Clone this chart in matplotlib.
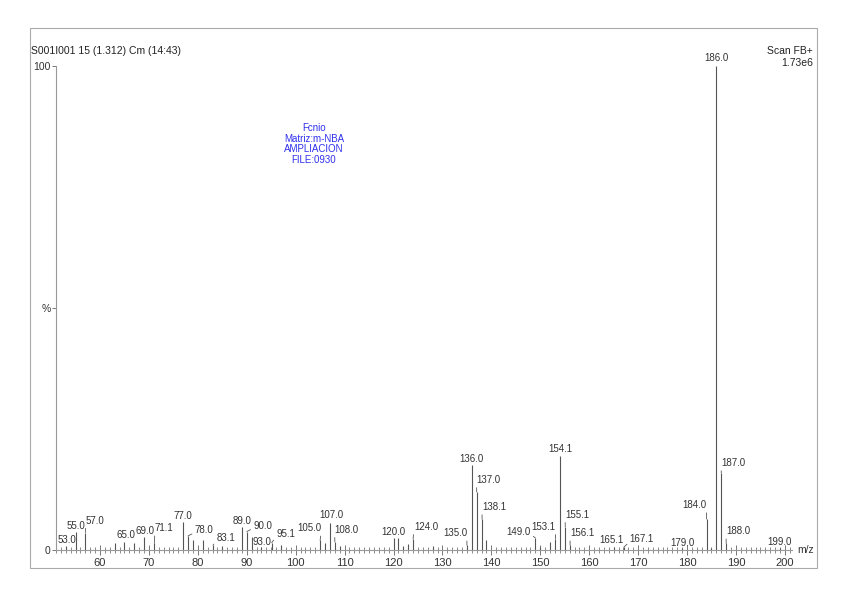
import matplotlib
matplotlib.use("Agg")
import matplotlib.pyplot as plt
from matplotlib.patches import Rectangle
from matplotlib.ticker import MultipleLocator

plt.rcParams['font.family'] = ['Liberation Sans', 'DejaVu Sans']

# spectrum peaks (m/z, relative intensity %)
mz = [53.0, 55.0, 57.0, 63.0, 65.0, 67.0, 69.0, 71.1, 77.0, 78.0, 79.0, 81.0,
      83.1, 85.0, 89.0, 90.0, 91.0, 93.0, 95.1, 97.0, 105.0, 106.0, 107.0,
      108.0, 109.0, 120.0, 121.0, 122.0, 123.0, 124.0, 128.0, 135.0, 136.0,
      137.0, 138.1, 139.0, 149.0, 150.0, 152.0, 153.1, 154.1, 155.1, 156.1,
      165.1, 167.1, 179.0, 184.0, 185.0, 186.0, 187.0, 188.0, 199.0]
intensity = [0.8, 3.8, 3.6, 1.4, 1.7, 1.5, 2.7, 1.4, 5.8, 2.9, 2.1, 2.1,
             1.0, 0.8, 4.8, 3.8, 2.7, 0.6, 1.5, 1.0, 2.0, 1.4, 5.5,
             1.7, 0.8, 2.5, 2.5, 0.8, 1.2, 2.3, 0.8, 1.0, 17.6,
             12.0, 6.4, 2.1, 2.5, 0.7, 1.7, 2.3, 19.4, 4.8, 1.0,
             0.6, 0.6, 0.5, 6.4, 0.4, 100.0, 15.9, 1.4, 0.4]

labelled = [53.0, 55.0, 57.0, 65.0, 69.0, 71.1, 77.0, 78.0, 83.1, 89.0, 90.0,
            93.0, 95.1, 105.0, 107.0, 108.0, 120.0, 124.0, 135.0, 136.0, 137.0,
            138.1, 149.0, 153.1, 154.1, 155.1, 156.1, 165.1, 167.1, 179.0,
            184.0, 186.0, 187.0, 188.0, 199.0]
# label offsets in pixels (dx, dy) from the peak top
label_off = [(1, 1), (0, 1), (10, 7), (1, 2), (1, 1), (10, 10), (0, 1), (16, 1),
             (13, 2), (0, 1), (16, 1), (0, 0), (14, 4), (-11, 7), (1, 3), (12, 7),
             (0, 1), (13, 7), (-12, 7), (0, 1), (12, 7), (12, 7), (-17, 1),
             (-12, 7), (0, 2), (12, 7), (12, 7), (-3, 2), (18, 3), (0, 0),
             (-12, 9), (0, 3), (12, 5), (12, 7), (0, 1)]

fig = plt.figure(figsize=(8.48, 5.99), dpi=100)
ax = fig.add_axes([56 / 848, 1 - 550 / 599, 735.7 / 848, 484 / 599])

ax.vlines(mz, 0, intensity, color='#555555', lw=0.8)

for m, (dx, dy) in zip(labelled, label_off):
    h = intensity[mz.index(m)]
    arrow = None
    if abs(dx) > 5:
        arrow = dict(arrowstyle='-', color='#555555', lw=0.6, shrinkA=0, shrinkB=0,
                     relpos=(0, 0.25) if dx > 0 else (1, 0.25))
    ax.annotate(f"{m:.1f}", xy=(m, h), xytext=(dx, dy), textcoords='offset pixels',
                ha='center', va='bottom', fontsize=7, color='#333333',
                arrowprops=arrow)

ax.set_xlim(51.0, 201.4)
ax.set_ylim(0, 100)
for s in ['top', 'right']:
    ax.spines[s].set_visible(False)
for s in ['left', 'bottom']:
    ax.spines[s].set_color('#999999')
    ax.spines[s].set_linewidth(0.8)

ax.xaxis.set_major_locator(MultipleLocator(10))
ax.xaxis.set_minor_locator(MultipleLocator(1))
ax.set_xticks(range(60, 201, 10))
ax.tick_params(axis='x', which='major', direction='inout', length=7, width=0.7,
               color='#777777', labelsize=8, labelcolor='#333333', pad=2)
ax.tick_params(axis='x', which='minor', direction='inout', length=4, width=0.6,
               color='#777777')
ax.set_yticks([0, 50, 100])
ax.set_yticklabels(['0', '%', '100'])
ax.tick_params(axis='y', direction='out', length=3, width=0.7, color='#777777',
               labelsize=7.5, labelcolor='#333333', pad=1)

fig.text(797 / 848, 1 - 550 / 599, "m/z", fontsize=7.5, color='#333333',
         ha='left', va='center')

fig.text(31 / 848, 1 - 51.5 / 599, "S001I001 15 (1.312) Cm (14:43)", fontsize=7.5,
         color='#222222', ha='left', va='center')
fig.text(813 / 848, 1 - 51.5 / 599, "Scan FB+", fontsize=7.5, color='#222222',
         ha='right', va='center')
fig.text(813 / 848, 1 - 62.5 / 599, "1.73e6", fontsize=7.5, color='#222222',
         ha='right', va='center')

fig.text(314 / 848, 1 - 144 / 599, "Fcnio\nMatriz:m-NBA\nAMPLIACION\nFILE:0930",
         fontsize=7, color='#3030ee', ha='center', va='center', linespacing=1.1)

fig.patches.append(Rectangle((30 / 848, 1 - 568 / 599), 787 / 848, 540 / 599,
                             transform=fig.transFigure, fill=False,
                             edgecolor='#aaaaaa', lw=0.8))

fig.savefig("out.png", dpi=100)
